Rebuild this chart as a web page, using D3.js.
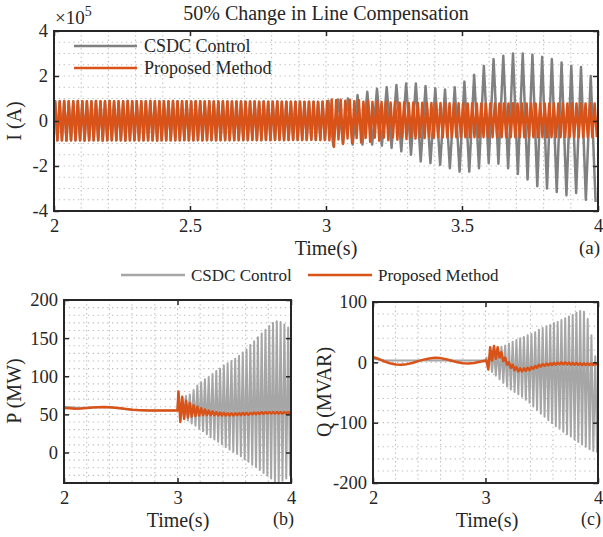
<!DOCTYPE html>
<html><head><meta charset="utf-8">
<script src="https://cdn.jsdelivr.net/npm/d3@7"></script>
<style>
body{margin:0;background:#fff}
svg{display:block}
text{font-family:"Liberation Serif","Times New Roman",serif;fill:#262626}
</style>
</head><body>
<svg id="chart" width="603" height="537"></svg>
<script>
// ---------------- DATA ----------------
const chartTitle = "50% Change in Line Compensation";
const seriesNames = ["CSDC Control", "Proposed Method"];
const panelTags = ["(a)", "(b)", "(c)"];
const yLabels = ["I (A)", "P (MW)", "Q (MVAR)"];
const xLabel = "Time(s)";
const xTicksA = [2, 2.5, 3, 3.5, 4];
const xTicksBC = [2, 3, 4];
const yTicksA = [-4, -2, 0, 2, 4];          // ×10^5
const yTicksB = [0, 50, 100, 150, 200];
const yTicksC = [-200, -100, 0, 100];

// Panel (a): current, per-cycle extremes (×10^5 A), 60 Hz cycles 2–3 s and 3–4 s
const iPropHiPre = [0.88,0.88,0.89,0.88,0.88,0.89,0.88,0.88,0.88,0.89,0.88,0.88,0.89,0.88,0.88,0.88,0.89,0.88,0.88,0.88,
  0.88,0.89,0.88,0.88,0.88,0.88,0.89,0.88,0.88,0.88,0.87,0.88,0.88,0.87,0.88,0.87,0.87,0.88,0.87,0.87,
  0.87,0.87,0.86,0.87,0.87,0.86,0.87,0.86,0.86,0.87,0.86,0.86,0.86,0.86,0.86,0.85,0.86,0.86,0.85,0.86];
const iPropLoPre = [-0.86,-0.86,-0.87,-0.86,-0.86,-0.86,-0.87,-0.86,-0.86,-0.86,-0.87,-0.86,-0.86,-0.86,-0.86,-0.87,-0.86,-0.86,-0.86,-0.86,
  -0.86,-0.86,-0.87,-0.86,-0.86,-0.86,-0.86,-0.86,-0.85,-0.86,-0.86,-0.85,-0.86,-0.85,-0.85,-0.86,-0.85,-0.85,-0.85,-0.85,
  -0.85,-0.85,-0.85,-0.84,-0.85,-0.85,-0.84,-0.85,-0.84,-0.84,-0.85,-0.84,-0.84,-0.84,-0.84,-0.84,-0.83,-0.84,-0.84,-0.84];
const iPropHiPost = [0.88,0.96,0.93,0.95,0.9,0.94,0.88,0.92,0.86,0.9,0.85,0.88,0.84,0.86,0.82,0.85,0.81,0.83,0.8,0.82,
  0.8,0.81,0.79,0.8,0.79,0.8,0.78,0.79,0.78,0.79,0.78,0.78,0.79,0.78,0.78,0.78,0.79,0.78,0.78,0.78,
  0.78,0.79,0.78,0.78,0.78,0.79,0.78,0.78,0.78,0.78,0.79,0.78,0.78,0.78,0.79,0.78,0.78,0.78,0.78,0.78];
const iPropLoPost = [-0.86,-1.15,-0.82,-1.02,-0.78,-0.98,-0.76,-0.95,-0.75,-0.92,-0.74,-0.88,-0.74,-0.85,-0.73,-0.83,-0.73,-0.8,-0.72,-0.78,
  -0.72,-0.76,-0.72,-0.75,-0.72,-0.73,-0.72,-0.72,-0.72,-0.72,-0.72,-0.72,-0.72,-0.72,-0.72,-0.72,-0.72,-0.72,-0.72,-0.72,
  -0.72,-0.72,-0.72,-0.72,-0.72,-0.72,-0.72,-0.72,-0.72,-0.72,-0.72,-0.72,-0.72,-0.72,-0.72,-0.72,-0.72,-0.72,-0.72,-0.72];
const iCsdcHiPost = [0.9,0.95,1.0,1.15,1.3,1.43,1.5,1.6,1.67,1.67,1.55,1.45,1.4,1.5,1.75,2.05,2.45,2.75,2.9,3.0,3.0,2.95,2.85,2.75,2.6,2.45,2.4,2.0];
const iCsdcLoPost = [-1.1,-1.0,-1.05,-1.05,-1.05,-1.1,-1.2,-1.35,-1.5,-1.8,-1.87,-1.95,-2.1,-2.25,-2.25,-2.1,-1.87,-1.9,-2.1,-2.35,-2.6,-2.9,-3.0,-3.15,-3.3,-3.2,-3.5,-3.6];

// Panel (b): active power (MW)
const pTimePre = [2.0,2.05,2.1,2.15,2.2,2.25,2.3,2.35,2.4,2.45,2.5,2.55,2.6,2.65,2.7,2.75,2.8,2.85,2.9,2.95,3.0];
const pPropPre = [58.5,58,57.5,57.8,58.3,58.9,59.4,59.6,59.4,58.8,58,57,56.2,55.6,55.3,55.1,55,55,55,55,55.2];
const pCsdcPre = [60,59.5,59,58.8,58.8,59,59.3,59.4,59.2,58.6,57.8,56.8,56,55.5,55.2,55,55,55,55,55,55.2];
const pPropHiPost = [80,73,68,65,62,60,58,56.5,55,54,53,52.5,52,51.5,51.5,51.5,51.5,52,52,52,52.5,52.5,53,53,53,53,53,53,53,53];
const pPropLoPost = [40,44,46,47,48,48.5,49,49,49,49,48.5,48.5,48.5,48.5,48.5,49,49,49.5,49.5,50,50,50.5,50.5,51,51,51,51,51,51,51];
const pCsdcHiPost = [78,72,74,76,82,88,92,96,99,103,107,110,114,117,120,123,127,131,135,141,146,151,156,161,166,170,172,171,168,164];
const pCsdcLoPost = [48,44,42,38,35,31,28,24,20,17,14,11,7,4,1,-2,-5,-9,-12,-16,-19,-23,-27,-30,-34,-38,-39,-37,-34,-31];

// Panel (c): reactive power (MVAR)
const qPropPre = [9,5.5,1.5,-1.5,-3.5,-4,-3,-1,2,4.5,6.5,7.5,7,5,2.5,0,-1.5,-2,-1,1,3];
const qCsdcPre = [6,4.5,3.5,3.2,3,3,3,3,3,3,3,3,3,3,3,3,3,3,3,3,3];
const qPropHiPost = [3,25,27,25,17,8,0,-4,-8,-10,-10,-9,-8,-6,-4,-3,-2,-1.5,-1,-0.5,0,0,-0.5,-1,-1,-1.5,-1.5,-2,-2,-2];
const qPropLoPost = [-12,3,6,8,2,-4,-9,-13,-15,-15,-14,-13,-11,-9,-7,-6,-5,-4.5,-4,-3.5,-3.5,-3.5,-4,-4,-4,-4.5,-4.5,-4.5,-4.5,-4.5];
const qCsdcHiPost = [8,18,22,24,26,28,31,34,37,40,42,45,47,50,54,57,60,62,65,67,70,73,76,79,82,85,84,72,45,10];
const qCsdcLoPost = [-8,-16,-22,-28,-34,-40,-45,-49,-53,-57,-62,-67,-73,-79,-85,-90,-96,-101,-106,-110,-115,-119,-123,-128,-132,-136,-140,-144,-147,-150];

// ---------------- DRAWING ----------------
const svg = d3.select("#chart");
const ORANGE = "#d95319";
const FONT = "Liberation Serif";

function cyclePoints(t0, t1, hi, lo) {
  const n = hi.length, dt = (t1 - t0) / n, pts = [];
  for (let k = 0; k < n; k++) {
    pts.push([t0 + (k + 0.25) * dt, hi[k]]);
    pts.push([t0 + (k + 0.75) * dt, lo[k]]);
  }
  return pts;
}

let clipId = 0;
function panel(box, xDom, yDom, xT, yT, xGridStep, yGridStep) {
  const x = d3.scaleLinear().domain(xDom).range([box.x0, box.x1]);
  const y = d3.scaleLinear().domain(yDom).range([box.y1, box.y0]);
  const g = svg.append("g");
  const gx = d3.range(xDom[0] + xGridStep, xDom[1] - 1e-9, xGridStep);
  const gy = d3.range(Math.ceil(yDom[0] / yGridStep) * yGridStep, yDom[1] + 1e-9, yGridStep);
  g.selectAll(".vg").data(gx).enter().append("line")
    .attr("x1", d => x(d)).attr("x2", d => x(d)).attr("y1", box.y0).attr("y2", box.y1)
    .attr("stroke", "#bdbdbd").attr("stroke-width", 1.1).attr("stroke-dasharray", "1.3,3");
  g.selectAll(".hg").data(gy).enter().append("line")
    .attr("x1", box.x0).attr("x2", box.x1).attr("y1", d => y(d)).attr("y2", d => y(d))
    .attr("stroke", "#bdbdbd").attr("stroke-width", 1.1).attr("stroke-dasharray", "1.3,3.5");
  const id = "clip" + (clipId++);
  svg.append("clipPath").attr("id", id).append("rect")
    .attr("x", box.x0).attr("y", box.y0).attr("width", box.x1 - box.x0).attr("height", box.y1 - box.y0);
  const data = g.append("g").attr("clip-path", `url(#${id})`);
  return { x, y, g, data, box, xT, yT };
}

function finishAxes(p, fmtX, fmtY) {
  const { x, y, g, box } = p;
  const ax = g.append("g");
  ax.append("g").attr("transform", `translate(0,${box.y1})`)
    .call(d3.axisBottom(x).tickValues(p.xT).tickSize(-5).tickPadding(8).tickFormat(fmtX));
  ax.append("g").attr("transform", `translate(0,${box.y0})`)
    .call(d3.axisTop(x).tickValues(p.xT).tickSize(-5).tickFormat(""));
  ax.append("g").attr("transform", `translate(${box.x0},0)`)
    .call(d3.axisLeft(y).tickValues(p.yT).tickSize(-5).tickPadding(6).tickFormat(fmtY));
  ax.append("g").attr("transform", `translate(${box.x1},0)`)
    .call(d3.axisRight(y).tickValues(p.yT).tickSize(-5).tickFormat(""));
  ax.selectAll(".domain").remove();
  ax.selectAll(".tick line").attr("stroke", "#262626").attr("stroke-width", 1.5);
  ax.selectAll(".tick text").attr("font-family", FONT).attr("font-size", 18.5).attr("fill", "#262626");
  g.append("rect").attr("x", box.x0).attr("y", box.y0).attr("width", box.x1 - box.x0).attr("height", box.y1 - box.y0)
    .attr("fill", "none").attr("stroke", "#262626").attr("stroke-width", 2);
}

function drawLine(p, pts, color, width) {
  const line = d3.line().x(d => p.x(d[0])).y(d => p.y(d[1]));
  p.data.append("path").attr("d", line(pts)).attr("fill", "none")
    .attr("stroke", color).attr("stroke-width", width).attr("stroke-linejoin", "round");
}

// ---- Panel (a)
const pa = panel({ x0: 54, x1: 598, y0: 31, y1: 211 }, [2, 4], [-4, 4], xTicksA, yTicksA, 0.1, 0.5);
const aPre = cyclePoints(2, 3, iPropHiPre, iPropLoPre);
const aGray = [[2, 0]].concat(aPre, cyclePoints(3, 4, iCsdcHiPost, iCsdcLoPost));
const aOrange = [[2, 0]].concat(aPre, cyclePoints(3, 4, iPropHiPost, iPropLoPost));
drawLine(pa, aGray, "#808080", 2.5);
drawLine(pa, aOrange, ORANGE, 2.5);
finishAxes(pa, d => String(d), d => String(d));

// legend (a)
const legA = svg.append("g");
[["#808080", 46], [ORANGE, 68]].forEach((c, i) => {
  legA.append("line").attr("x1", 74).attr("x2", 137).attr("y1", c[1]).attr("y2", c[1])
    .attr("stroke", c[0]).attr("stroke-width", 2.5);
  legA.append("text").attr("x", 144).attr("y", c[1] + 6).attr("font-size", 18).text(seriesNames[i]);
});

// title & labels (a)
svg.append("text").attr("x", 326).attr("y", 20).attr("text-anchor", "middle").attr("font-size", 20).text(chartTitle);
const mult = svg.append("text").attr("x", 55).attr("y", 24).attr("font-size", 19);
mult.append("tspan").text("×10");
mult.append("tspan").attr("dy", -8).attr("font-size", 14).text("5");
svg.append("text").attr("transform", "translate(21,121) rotate(-90)").attr("text-anchor", "middle").attr("font-size", 20).text(yLabels[0]);
svg.append("text").attr("x", 326).attr("y", 255).attr("text-anchor", "middle").attr("font-size", 20).text(xLabel);
svg.append("text").attr("x", 600).attr("y", 254).attr("text-anchor", "end").attr("font-size", 19).text(panelTags[0]);

// ---- shared legend (b, c)
const legB = svg.append("g");
legB.append("line").attr("x1", 121).attr("x2", 185).attr("y1", 275).attr("y2", 275).attr("stroke", "#a6a6a6").attr("stroke-width", 2.5);
legB.append("text").attr("x", 191).attr("y", 281).attr("font-size", 17).text(seriesNames[0]);
legB.append("line").attr("x1", 308).attr("x2", 372).attr("y1", 275).attr("y2", 275).attr("stroke", ORANGE).attr("stroke-width", 2.5);
legB.append("text").attr("x", 378).attr("y", 281).attr("font-size", 17).text(seriesNames[1]);

// ---- Panel (b)
const pb = panel({ x0: 64, x1: 291, y0: 300, y1: 483 }, [2, 4], [-40, 200], xTicksBC, yTicksB, 0.2, 10);
const bGray = d3.zip(pTimePre, pCsdcPre).concat(cyclePoints(3, 4, pCsdcHiPost, pCsdcLoPost));
const bOrange = d3.zip(pTimePre, pPropPre).concat(cyclePoints(3, 4, pPropHiPost, pPropLoPost));
drawLine(pb, bGray, "#a6a6a6", 2);
drawLine(pb, bOrange, ORANGE, 2.5);
finishAxes(pb, d => String(d), d => String(d));
svg.append("text").attr("transform", "translate(21,391) rotate(-90)").attr("text-anchor", "middle").attr("font-size", 20).text(yLabels[1]);
svg.append("text").attr("x", 178).attr("y", 527).attr("text-anchor", "middle").attr("font-size", 20).text(xLabel);
svg.append("text").attr("x", 294).attr("y", 525).attr("text-anchor", "end").attr("font-size", 18).text(panelTags[1]);

// ---- Panel (c)
const pc = panel({ x0: 373, x1: 598, y0: 302, y1: 483 }, [2, 4], [-200, 100], xTicksBC, yTicksC, 0.2, 20);
const cGray = d3.zip(pTimePre, qCsdcPre).concat(cyclePoints(3, 4, qCsdcHiPost, qCsdcLoPost));
const cOrange = d3.zip(pTimePre, qPropPre).concat(cyclePoints(3, 4, qPropHiPost, qPropLoPost));
drawLine(pc, cGray, "#a6a6a6", 2);
drawLine(pc, cOrange, ORANGE, 2.5);
finishAxes(pc, d => String(d), d => String(d));
svg.append("text").attr("transform", "translate(331,392) rotate(-90)").attr("text-anchor", "middle").attr("font-size", 20).text(yLabels[2]);
svg.append("text").attr("x", 487).attr("y", 527).attr("text-anchor", "middle").attr("font-size", 20).text(xLabel);
svg.append("text").attr("x", 601).attr("y", 525).attr("text-anchor", "end").attr("font-size", 18).text(panelTags[2]);
</script>
</body></html>
